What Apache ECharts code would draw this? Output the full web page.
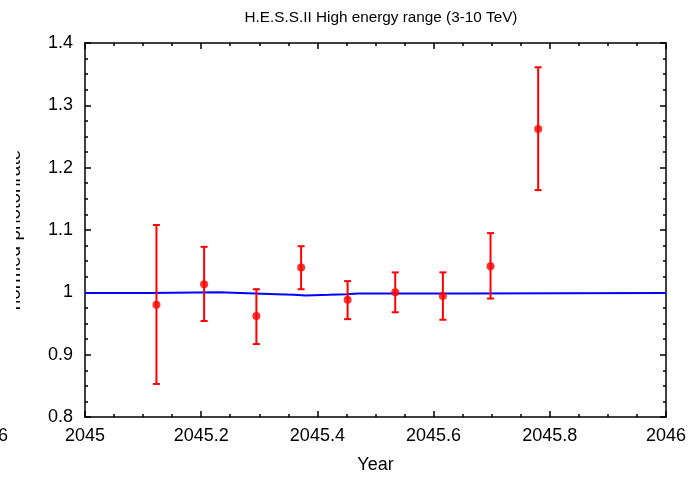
<!DOCTYPE html>
<html><head><meta charset="utf-8">
<script src="https://cdn.jsdelivr.net/npm/echarts@6/dist/echarts.min.js"></script>
<style>html,body{margin:0;padding:0;background:#fff}#c{width:689px;height:479px}</style>
</head><body><div id="c"></div>
<script>
var titleText = 'H.E.S.S.II High energy range (3-10 TeV)';
var xName = 'Year';
var yName = 'normed photonrate';
var years = [2045.123, 2045.205, 2045.295, 2045.372, 2045.452, 2045.534, 2045.616, 2045.698, 2045.780];
var rate = [0.980, 1.013, 0.962, 1.040, 0.988, 1.000, 0.994, 1.042, 1.262];
var errLow = [0.853, 0.954, 0.917, 1.005, 0.957, 0.968, 0.956, 0.990, 1.164];
var errHigh = [1.108, 1.073, 1.005, 1.074, 1.018, 1.032, 1.032, 1.095, 1.361];
var modelX = [2045.0, 2045.11, 2045.11, 2045.23, 2045.23, 2045.33, 2045.36, 2045.38, 2045.42, 2045.45, 2045.47, 2045.65, 2045.65, 2046.0];
var modelY = [0.999, 0.999, 1.000, 1.000, 0.998, 0.997, 0.996, 0.995, 0.996, 0.997, 0.998, 0.998, 0.999, 0.999];

var FONT = 'Liberation Sans';
var chart = echarts.init(document.getElementById('c'), null, {renderer: 'canvas'});

var pts = years.map(function (x, i) { return [x, rate[i]]; });
var errs = years.map(function (x, i) { return [x, errLow[i], errHigh[i]]; });
var model = modelX.map(function (x, i) { return [x, modelY[i]]; });

function baseX(show, pos) {
  return {
    type: 'value', min: 2045, max: 2046, interval: 0.2, position: pos,
    axisLine: {show: true, onZero: false, lineStyle: {color: '#000', width: 1.5}},
    axisTick: {show: true, inside: true, length: 6, lineStyle: {color: '#000', width: 1.5}},
    minorTick: {show: true, splitNumber: 4, length: 3, lineStyle: {color: '#000', width: 1.5}},
    splitLine: {show: false},
    axisLabel: {show: show, margin: 10, color: '#000', fontFamily: FONT, fontSize: 18,
      formatter: function (v) { return String(+v.toFixed(1)); }}
  };
}
function baseY(show, pos) {
  return {
    type: 'value', min: 0.8, max: 1.4, interval: 0.1, position: pos,
    axisLine: {show: true, onZero: false, lineStyle: {color: '#000', width: 1.5}},
    axisTick: {show: true, inside: true, length: 6, lineStyle: {color: '#000', width: 1.5}},
    minorTick: {show: true, splitNumber: 4, length: 3, lineStyle: {color: '#000', width: 1.5}},
    splitLine: {show: false},
    axisLabel: {show: show, margin: 12, color: '#000', fontFamily: FONT, fontSize: 18,
      formatter: function (v) { return String(+v.toFixed(1)); }}
  };
}

var x0 = baseX(true, 'bottom');
x0.name = xName; x0.nameLocation = 'middle'; x0.nameGap = 39;
x0.nameTextStyle = {color: '#000', fontFamily: FONT, fontSize: 18};
var x1 = baseX(false, 'top');
var y0 = baseY(true, 'left');
var y1 = baseY(false, 'right');

chart.setOption({
  animation: false,
  backgroundColor: '#fff',
  title: {text: titleText, left: 376, top: 5, textAlign: 'center',
    textStyle: {color: '#000', fontFamily: FONT, fontSize: 15.3, fontWeight: 'normal'}},
  grid: {left: 85, right: 22, top: 43, bottom: 62, containLabel: false},
  xAxis: [x0, x1],
  yAxis: [y0, y1],
  graphic: [
    {type: 'text', rotation: Math.PI / 2, x: 15, y: 230,
      style: {text: yName, fill: '#000', font: '19px "' + FONT + '"', textAlign: 'center', textVerticalAlign: 'middle'}},
    {type: 'rect', shape: {x: 0, y: 100, width: 16, height: 280}, style: {fill: '#fff'}, z: 100},
    {type: 'text', x: 8, y: 436,
      style: {text: '6', fill: '#000', font: '18px "' + FONT + '"', textAlign: 'right', textVerticalAlign: 'middle'}}
  ],
  series: [
    {type: 'line', xAxisIndex: 0, yAxisIndex: 0, data: model, showSymbol: false, symbol: 'none',
      lineStyle: {color: '#0000ff', width: 2}, z: 2},
    {type: 'custom', xAxisIndex: 0, yAxisIndex: 0, data: errs, z: 3,
      encode: {x: 0, y: [1, 2]},
      renderItem: function (params, api) {
        var x = api.value(0);
        var lo = api.coord([x, api.value(1)]);
        var hi = api.coord([x, api.value(2)]);
        var hw = 3.5;
        var st = {stroke: '#ff0000', lineWidth: 2};
        return {type: 'group', children: [
          {type: 'line', shape: {x1: lo[0], y1: lo[1], x2: hi[0], y2: hi[1]}, style: st},
          {type: 'line', shape: {x1: lo[0] - hw, y1: lo[1], x2: lo[0] + hw, y2: lo[1]}, style: st},
          {type: 'line', shape: {x1: hi[0] - hw, y1: hi[1], x2: hi[0] + hw, y2: hi[1]}, style: st}
        ]};
      }},
    {type: 'scatter', xAxisIndex: 0, yAxisIndex: 0, data: pts, symbol: 'circle', symbolSize: 8,
      itemStyle: {color: '#ff0000'}, z: 4}
  ]
});
</script>
</body></html>
